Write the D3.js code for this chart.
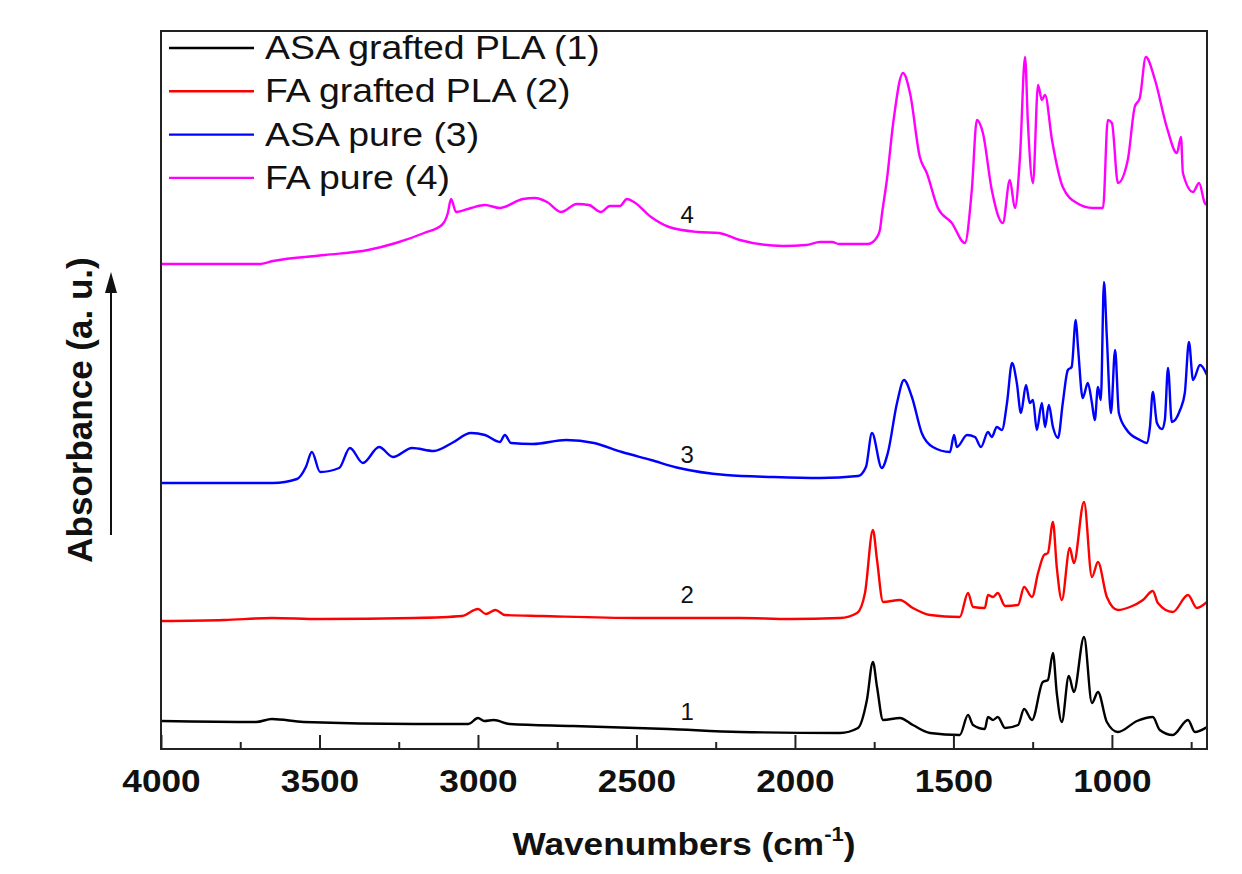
<!DOCTYPE html>
<html>
<head>
<meta charset="utf-8">
<script src="https://cdn.jsdelivr.net/npm/d3@7"></script>
<style>
    body { margin: 0; background: #fff; }
    text { font-family: Arial, "Liberation Sans", sans-serif; }
</style>
</head>
<body>
<div id="chart"></div>
<script>
var seriesNames = ['ASA grafted PLA (1)', 'FA grafted PLA (2)', 'ASA pure (3)', 'FA pure (4)'];
var seriesTags = ['1', '2', '3', '4'];
var seriesColors = ['#000000', '#ff0000', '#0000ff', '#ff00ff'];
var xTicks = [4000, 3500, 3000, 2500, 2000, 1500, 1000];
var xMinorTicks = [3750, 3250, 2750, 2250, 1750, 1250, 750];

// [wavenumber, absorbance (a.u., stacked)]
var asaGraftedPla = [[4000,28],[3700,27],[3650,30],[3550,27],[3200,25],[3030,25],[3000,31],[2980,28],[2950,29],[2900,25],[2700,23],[2400,20],[2173,17],[1858,16],[1801,21],[1773,49],[1754,87],[1741,62],[1722,29],[1669,31],[1628,24],[1574,16],[1480,14],[1454,34],[1438,24],[1401,20],[1391,32],[1375,29],[1360,32],[1337,21],[1296,24],[1277,40],[1252,29],[1218,67],[1202,69],[1186,96],[1174,56],[1158,27],[1136,73],[1120,57],[1088,112],[1063,46],[1044,57],[1016,27],[981,17],[921,28],[871,32],[849,19],[808,14],[760,29],[738,17],[700,22]];
var faGraftedPla = [[4000,128],[3800,129],[3650,131],[3500,130],[3200,131],[3050,133],[3000,140],[2975,135],[2945,139],[2915,134],[2800,133],[2500,131],[2173,131],[2016,130],[1858,131],[1804,136],[1779,156],[1754,219],[1741,189],[1722,147],[1669,149],[1628,141],[1574,134],[1480,132],[1454,156],[1438,142],[1401,141],[1391,154],[1375,152],[1360,156],[1337,143],[1296,144],[1277,162],[1252,152],[1233,176],[1214,194],[1202,196],[1186,227],[1174,182],[1158,149],[1133,201],[1120,186],[1088,247],[1063,172],[1044,187],[1016,152],[981,139],[943,142],[902,149],[871,158],[855,146],[808,137],[760,154],[732,141],[700,147]];
var asaPure = [[4000,266],[3647,266],[3571,270],[3543,282],[3524,297],[3498,277],[3438,281],[3404,301],[3363,286],[3312,302],[3268,292],[3208,301],[3139,298],[3082,306],[3022,316],[2978,314],[2931,307],[2915,314],[2896,306],[2827,305],[2722,309],[2634,306],[2546,297],[2454,289],[2366,281],[2218,274],[2069,272],[1921,271],[1801,273],[1776,282],[1757,316],[1726,281],[1707,296],[1678,346],[1656,369],[1631,352],[1600,316],[1565,302],[1511,297],[1498,314],[1489,302],[1457,314],[1432,312],[1413,302],[1391,317],[1379,312],[1363,322],[1347,319],[1331,346],[1315,386],[1300,366],[1287,336],[1271,364],[1259,346],[1249,349],[1237,319],[1221,346],[1211,322],[1199,344],[1186,322],[1170,311],[1155,346],[1139,379],[1127,382],[1114,429],[1107,402],[1092,351],[1076,366],[1063,346],[1054,329],[1044,362],[1035,349],[1025,467],[1016,412],[1003,336],[990,399],[978,336],[953,319],[912,309],[890,306],[880,322],[871,357],[858,326],[842,320],[833,329],[823,381],[811,327],[785,339],[770,356],[757,407],[744,369],[722,384],[700,374]];
var faPure = [[4000,485],[3691,485],[3647,488],[3483,494],[3347,499],[3259,506],[3170,516],[3114,524],[3095,536],[3085,550],[3069,537],[3022,541],[2978,544],[2931,541],[2858,550],[2820,551],[2782,547],[2738,537],[2688,545],[2650,544],[2612,537],[2584,543],[2552,543],[2530,550],[2508,547],[2454,532],[2397,522],[2306,517],[2240,516],[2174,509],[2038,503],[1965,504],[1921,507],[1883,507],[1861,505],[1770,505],[1754,507],[1741,512],[1732,519],[1725,536],[1710,569],[1690,626],[1659,676],[1637,656],[1606,592],[1584,576],[1549,541],[1505,526],[1464,506],[1442,559],[1426,629],[1407,616],[1379,559],[1344,526],[1322,569],[1306,541],[1290,592],[1274,692],[1265,626],[1249,566],[1233,664],[1221,649],[1211,654],[1189,609],[1155,562],[1111,546],[1060,541],[1028,541],[1013,629],[1000,626],[981,566],[950,589],[928,642],[912,651],[893,692],[864,669],[827,622],[795,596],[782,612],[776,576],[744,557],[725,566],[707,546],[700,544]];

// where the curve numbers sit: wavenumber and absorbance
var tagWavenumber = 2340;
var tagValues = [37, 154, 294, 534];

function createChart() {
    var margin = { top: 31, right: 35, bottom: 125, left: 161 };
    var width = 1242 - margin.left - margin.right;
    var height = 874 - margin.top - margin.bottom;
    var spectra = [asaGraftedPla, faGraftedPla, asaPure, faPure];
    var stretch = 'scale(1.1,1)';

    var x = d3.scaleLinear()
        .domain([4000, 700])
        .range([0, width]);
    var y = d3.scaleLinear()
        .domain([0, 718])
        .range([height, 0]);

    var svg = d3.select('#chart').append('svg')
        .attr('width', 1242)
        .attr('height', 874)
        .style('background', '#fff')
        .append('g')
        .attr('transform', 'translate(' + margin.left + ',' + margin.top + ')');

    svg.append('clipPath').attr('id', 'plot-clip')
        .append('rect')
        .attr('width', width)
        .attr('height', height);

    var line = d3.line()
        .x(function (d) { return x(d[0]); })
        .y(function (d) { return y(d[1]); })
        .curve(d3.curveMonotoneX);

    svg.append('g')
        .attr('clip-path', 'url(#plot-clip)')
        .selectAll('path')
        .data(spectra)
        .enter().append('path')
        .attr('d', line)
        .attr('fill', 'none')
        .attr('stroke', function (d, i) { return seriesColors[i]; })
        .attr('stroke-width', 2.4)
        .attr('stroke-linejoin', 'round');

    // major ticks + labels
    var xAxis = svg.append('g')
        .attr('transform', 'translate(0,' + height + ')')
        .call(d3.axisBottom(x)
            .tickValues(xTicks)
            .tickSizeInner(-14)
            .tickSizeOuter(0)
            .tickPadding(20)
            .tickFormat(d3.format('d')));
    xAxis.select('.domain').remove();
    xAxis.attr('font-size', 32).attr('font-weight', 'bold')
        .attr('font-family', 'Arial, "Liberation Sans", sans-serif');
    xAxis.selectAll('line').attr('stroke', '#222').attr('stroke-width', 2);
    xAxis.selectAll('text').attr('fill', '#111').attr('transform', stretch);

    // minor ticks
    var xMinor = svg.append('g')
        .attr('transform', 'translate(0,' + height + ')')
        .call(d3.axisBottom(x)
            .tickValues(xMinorTicks)
            .tickSizeInner(-7)
            .tickSizeOuter(0)
            .tickFormat(''));
    xMinor.select('.domain').remove();
    xMinor.selectAll('line').attr('stroke', '#222').attr('stroke-width', 2);

    // frame
    svg.append('rect')
        .attr('width', width)
        .attr('height', height)
        .attr('fill', 'none')
        .attr('stroke', '#222')
        .attr('stroke-width', 2);

    // curve numbers
    svg.selectAll('.tag')
        .data(seriesTags)
        .enter().append('text')
        .attr('class', 'tag')
        .attr('x', x(tagWavenumber))
        .attr('y', function (d, i) { return y(tagValues[i]); })
        .attr('dy', '0.35em')
        .attr('text-anchor', 'middle')
        .attr('font-size', 24)
        .attr('fill', '#111')
        .text(function (d) { return d; });

    // legend
    var legend = svg.append('g');
    var rows = legend.selectAll('g')
        .data(seriesNames)
        .enter().append('g')
        .attr('transform', function (d, i) { return 'translate(0,' + (17 + i * 43.3) + ')'; });
    rows.append('line')
        .attr('x1', 8)
        .attr('x2', 93)
        .attr('stroke', function (d, i) { return seriesColors[i]; })
        .attr('stroke-width', 2.4);
    rows.append('text')
        .attr('transform', 'translate(104,11) ' + stretch)
        .attr('font-size', 34)
        .attr('fill', '#111')
        .text(function (d) { return d; });

    // axis titles
    var xTitle = svg.append('text')
        .attr('transform', 'translate(' + (width / 2) + ',' + (height + 106) + ') ' + stretch)
        .attr('text-anchor', 'middle')
        .attr('font-size', 32)
        .attr('font-weight', 'bold')
        .attr('fill', '#111');
    xTitle.append('tspan').text('Wavenumbers (cm');
    xTitle.append('tspan').attr('font-size', 20).attr('dy', -14).text('-1');
    xTitle.append('tspan').attr('dy', 14).text(')');

    svg.append('text')
        .attr('transform', 'translate(-69,' + (height / 2 + 20) + ') rotate(-90)')
        .attr('text-anchor', 'middle')
        .attr('font-size', 35)
        .attr('font-weight', 'bold')
        .attr('fill', '#111')
        .text('Absorbance (a. u.)');

    // arrow next to the y title
    svg.append('line')
        .attr('x1', -50).attr('x2', -50)
        .attr('y1', 504).attr('y2', 258)
        .attr('stroke', '#111')
        .attr('stroke-width', 2);
    svg.append('path')
        .attr('d', 'M-50,241L-56,262L-44,262Z')
        .attr('fill', '#111');
}

createChart();
</script>
</body>
</html>
